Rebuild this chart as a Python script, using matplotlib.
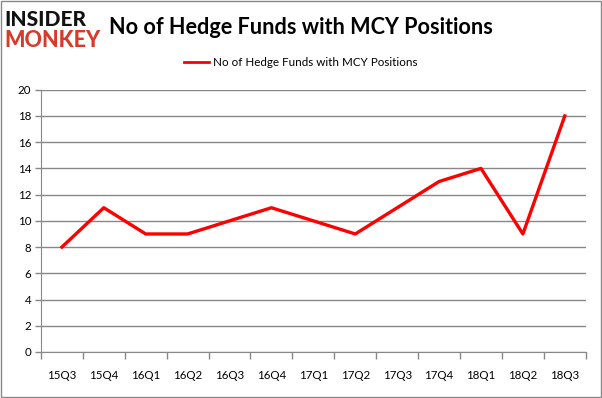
import numpy as np
import matplotlib
matplotlib.use("Agg")
import matplotlib.pyplot as plt
from matplotlib.patches import Rectangle

quarters = ["15Q3", "15Q4", "16Q1", "16Q2", "16Q3", "16Q4", "17Q1",
            "17Q2", "17Q3", "17Q4", "18Q1", "18Q2", "18Q3"]
funds = [8, 11, 9, 9, 10, 11, 10, 9, 11, 13, 14, 9, 18]
yticks = list(range(0, 21, 2))

title = "No of Hedge Funds with MCY Positions"
font = "Lato"

fig = plt.figure(figsize=(6.02, 3.98), dpi=100)
ax = fig.add_axes([0.068, 0.1156, 0.905, 0.659])

x = np.arange(len(quarters))
ax.plot(x, funds, color="#ff0000", lw=2.4, solid_joinstyle="round", zorder=3)

ax.set_xlim(-0.5, len(quarters) - 0.5)
ax.set_ylim(0, 20)
ax.set_yticks(yticks)
ax.set_yticklabels([str(v) for v in yticks], fontsize=8.3, family=font)
ax.yaxis.grid(True, color="#888888", lw=1)
ax.set_axisbelow(True)

# category labels centred, tick marks at boundaries
ax.set_xticks(x)
ax.set_xticklabels(quarters, fontsize=8.3, family=font)
ax.tick_params(axis="x", length=0, pad=13)
ax.set_xticks(np.arange(-0.5, len(quarters)), minor=True)
ax.tick_params(axis="x", which="minor", length=5, color="#888888", width=1)
ax.tick_params(axis="y", length=4, color="#888888", width=1, pad=3)

for side in ["top", "right"]:
    ax.spines[side].set_visible(False)
ax.spines["left"].set_color("#888888")
ax.spines["bottom"].set_color("#888888")

# title and legend
fig.text(0.5, 0.932, title, fontsize=15.6, fontweight="bold", family=font,
         ha="center", va="center")
fig.add_artist(plt.Line2D([0.305, 0.348], [0.843, 0.843], color="#ff0000", lw=2,
                          transform=fig.transFigure))
fig.text(0.354, 0.843, title, fontsize=8.4, family=font, ha="left", va="center")

# logo
fig.text(0.008, 0.951, "INSIDER", fontsize=15, fontweight="black", family=font,
         color="#111111", ha="left", va="center")
fig.text(0.008, 0.897, "MONKEY", fontsize=15.5, fontweight="black", family=font,
         color="#d63b2a", ha="left", va="center")

# outer border
fig.add_artist(Rectangle((0.001, 0.002), 0.997, 0.995, transform=fig.transFigure,
                         fill=False, edgecolor="#888888", lw=1))

fig.savefig("out.png", dpi=100)
